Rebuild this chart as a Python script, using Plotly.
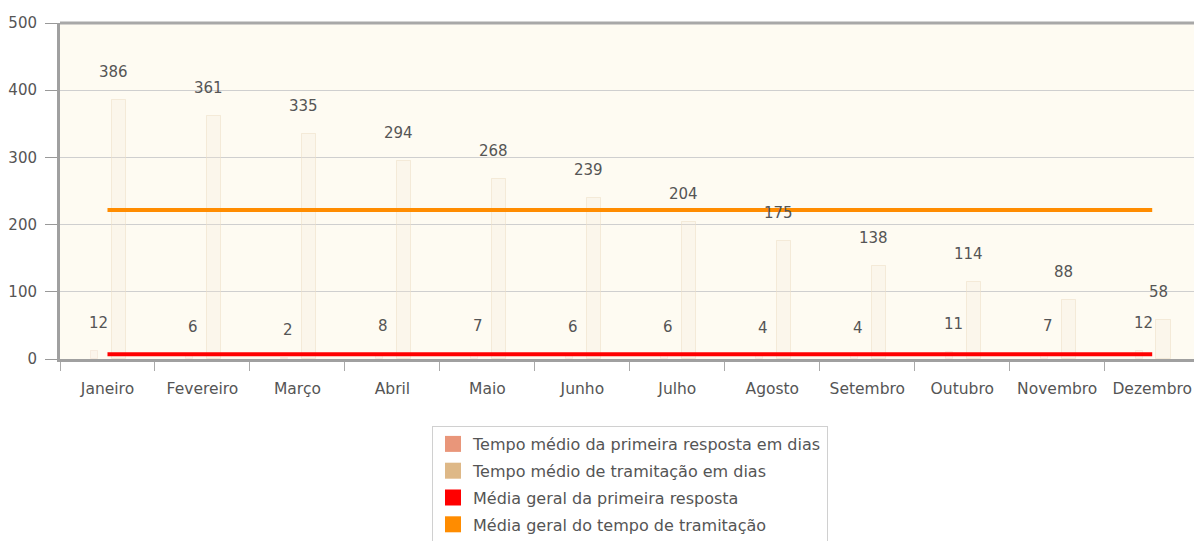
import plotly.graph_objects as go

months = ["Janeiro", "Fevereiro", "Março", "Abril", "Maio", "Junho", "Julho",
          "Agosto", "Setembro", "Outubro", "Novembro", "Dezembro"]
primeira_resposta = [12, 6, 2, 8, 7, 6, 6, 4, 4, 11, 7, 12]
tramitacao = [386, 361, 335, 294, 268, 239, 204, 175, 138, 114, 88, 58]
media_primeira = 7.08
media_tramitacao = 221.7
y_ticks = [0, 100, 200, 300, 400, 500]

names = ["Tempo médio da primeira resposta em dias",
         "Tempo médio de tramitação em dias",
         "Média geral da primeira resposta",
         "Média geral do tempo de tramitação"]
legend_colors = ["#E9967A", "#DEB887", "#FF0000", "#FF8C00"]

FONT = "DejaVu Sans"

fig = go.Figure()

# faint 3D-looking bars
fig.add_trace(go.Bar(x=months, y=primeira_resposta, width=0.07, offset=-0.17,
                     marker=dict(color="rgba(240,215,200,0.15)",
                                 line=dict(color="rgba(235,205,185,0.3)", width=1)),
                     showlegend=False, hoverinfo="skip"))
fig.add_trace(go.Bar(x=months, y=tramitacao, width=0.15, offset=0.045,
                     marker=dict(color="rgba(242,232,215,0.25)",
                                 line=dict(color="rgba(236,222,198,0.55)", width=1)),
                     showlegend=False, hoverinfo="skip"))

# average lines
fig.add_trace(go.Scatter(x=months, y=[media_primeira] * len(months), mode="lines",
                         line=dict(color="#FF0000", width=4), showlegend=False,
                         hoverinfo="skip"))
fig.add_trace(go.Scatter(x=months, y=[media_tramitacao] * len(months), mode="lines",
                         line=dict(color="#FF8C00", width=4), showlegend=False,
                         hoverinfo="skip"))

# legend-only entries
for i, (n, c) in enumerate(zip(names, legend_colors)):
    fig.add_trace(go.Scatter(x=[None], y=[None], mode="markers", name=n,
                             legendgroup=f"g{i}",
                             marker=dict(symbol="square", size=16, color=c)))

# value labels
for m, v in zip(months, primeira_resposta):
    fig.add_annotation(x=m, y=v, text=str(v), showarrow=False, xshift=-9,
                       yshift=28, font=dict(family=FONT, size=15, color="#555"))
for m, v in zip(months, tramitacao):
    fig.add_annotation(x=m, y=v, text=str(v), showarrow=False, xshift=6,
                       yshift=28, font=dict(family=FONT, size=15, color="#555"))

# top border
fig.add_shape(type="line", xref="paper", yref="paper", x0=0, x1=1, y0=1, y1=1,
              line=dict(color="#a8a8a8", width=3), layer="above")

fig.update_layout(
    width=1194, height=541,
    margin=dict(l=60, r=0, t=23, b=182, autoexpand=False),
    paper_bgcolor="white",
    plot_bgcolor="#fefbf2",
    bargap=0, barmode="overlay",
    font=dict(family=FONT, size=15, color="#555"),
    legend=dict(x=(432 - 60) / 1134, y=(359 - 426) / 336,
                xanchor="left", yanchor="top",
                bgcolor="white", bordercolor="#d0d0d0", borderwidth=1,
                font=dict(family=FONT, size=16, color="#555"),
                traceorder="grouped", tracegroupgap=3, itemwidth=30),
    xaxis=dict(type="category", range=[-0.5, 11.44], showgrid=False,
               automargin=False, tickangle=0,
               showline=True, linecolor="#a0a0a0", linewidth=3,
               ticks="outside", tickson="boundaries", ticklen=9,
               tickcolor="#aaa", tickwidth=1, ticklabelstandoff=13,
               tickfont=dict(family=FONT, size=15.5, color="#555")),
    yaxis=dict(range=[0, 500], tickvals=y_ticks, showgrid=True,
               automargin=False,
               gridcolor="#cfcfcf", gridwidth=1, zeroline=False,
               showline=True, linecolor="#a0a0a0", linewidth=3,
               ticks="outside", ticklen=12, tickcolor="#999", tickwidth=1,
               ticklabelstandoff=5,
               tickfont=dict(family=FONT, size=15, color="#555")),
)

fig.write_html("out.html",
               config={"displayModeBar": False},
               post_script="document.body.style.margin='0';"
                           "document.body.style.overflow='hidden';")
